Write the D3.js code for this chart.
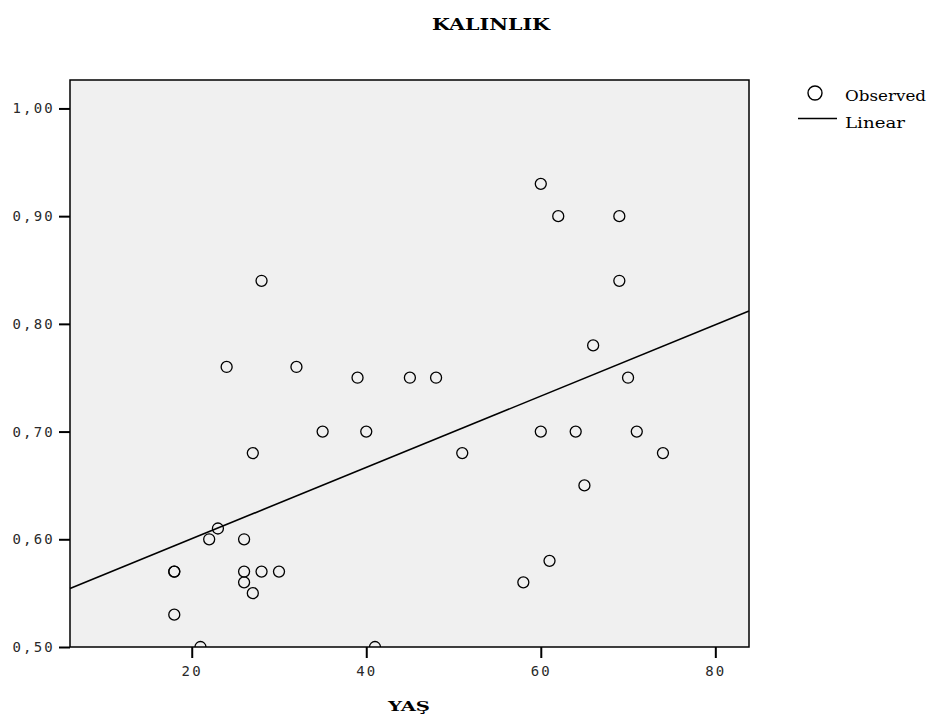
<!DOCTYPE html>
<html>
<head>
<meta charset="utf-8">
<script src="https://cdn.jsdelivr.net/npm/d3@7"></script>
<style>
  html, body { margin: 0; padding: 0; background: #fff; }
  svg { display: block; }
  .tick text { font-family: "DejaVu Sans Mono", monospace; font-size: 14px; letter-spacing: 2.2px; fill: #2a2a2a; }
</style>
</head>
<body>
<svg id="chart" width="938" height="725"></svg>
<script>
// YAŞ (age) against KALINLIK (thickness)
const age = [18, 18, 18, 21, 22, 23, 24, 26, 26, 26, 27, 27, 28, 28, 30, 32, 35, 39, 40, 41,
             45, 48, 51, 58, 60, 60, 61, 62, 64, 65, 66, 69, 69, 70, 71, 74];
const thickness = [0.57, 0.57, 0.53, 0.50, 0.60, 0.61, 0.76, 0.60, 0.57, 0.56, 0.55, 0.68, 0.84, 0.57, 0.57, 0.76, 0.70, 0.75, 0.70, 0.50,
                   0.75, 0.75, 0.68, 0.56, 0.93, 0.70, 0.58, 0.90, 0.70, 0.65, 0.78, 0.90, 0.84, 0.75, 0.70, 0.68];
const xTicks = [20, 40, 60, 80];
const yTicks = [0.5, 0.6, 0.7, 0.8, 0.9, 1.0];
const legendLabels = ["Observed", "Linear"];

const svg = d3.select("#chart");
const plot = { left: 70, top: 80, right: 749, bottom: 647 };
const serif = "'DejaVu Serif', serif";

const x = d3.scaleLinear().domain([6.05, 83.86]).range([plot.left, plot.right]);
const y = d3.scaleLinear().domain([0.5, 1.0264]).range([plot.bottom, plot.top]);

// plot background
svg.append("rect")
  .attr("x", plot.left).attr("y", plot.top)
  .attr("width", plot.right - plot.left).attr("height", plot.bottom - plot.top)
  .attr("fill", "#f0f0f0");

// least-squares fit
const n = age.length;
const mx = d3.mean(age), my = d3.mean(thickness);
let sxy = 0, sxx = 0;
for (let i = 0; i < n; i++) { sxy += (age[i] - mx) * (thickness[i] - my); sxx += (age[i] - mx) ** 2; }
const slope = sxy / sxx, intercept = my - slope * mx;
const [x0, x1] = x.domain();

svg.append("clipPath").attr("id", "plotClip").append("rect")
  .attr("x", plot.left).attr("y", plot.top)
  .attr("width", plot.right - plot.left).attr("height", plot.bottom - plot.top);

svg.append("line")
  .attr("x1", x(x0)).attr("y1", y(intercept + slope * x0))
  .attr("x2", x(x1)).attr("y2", y(intercept + slope * x1))
  .attr("stroke", "#000").attr("stroke-width", 1.6);

svg.append("g").attr("clip-path", "url(#plotClip)")
  .selectAll("circle").data(age.map((a, i) => [a, thickness[i]]))
  .join("circle")
  .attr("cx", d => x(d[0])).attr("cy", d => y(d[1]))
  .attr("r", 5.5)
  .attr("fill", "none").attr("stroke", "#000").attr("stroke-width", 1.3);

// frame
svg.append("rect")
  .attr("x", plot.left).attr("y", plot.top)
  .attr("width", plot.right - plot.left).attr("height", plot.bottom - plot.top)
  .attr("fill", "none").attr("stroke", "#000").attr("stroke-width", 1.5);

// axes
const fmt = v => d3.format(".2f")(v).replace(".", ",");
const gx = svg.append("g").attr("transform", `translate(0,${plot.bottom})`)
  .call(d3.axisBottom(x).tickValues(xTicks).tickSize(11).tickPadding(8).tickFormat(d3.format("d")));
const gy = svg.append("g").attr("transform", `translate(${plot.left},0)`)
  .call(d3.axisLeft(y).tickValues(yTicks).tickSize(11).tickPadding(4).tickFormat(fmt));
[gx, gy].forEach(g => {
  g.select(".domain").remove();
  g.selectAll(".tick line").attr("stroke", "#000").attr("stroke-width", 2);
});

// title and axis title
svg.append("text").attr("x", 432).attr("y", 30)
  .attr("font-family", serif).attr("font-weight", "bold")
  .attr("font-size", 16).attr("textLength", 118).attr("lengthAdjust", "spacingAndGlyphs")
  .text("KALINLIK");
svg.append("text").attr("x", 388).attr("y", 711)
  .attr("font-family", serif).attr("font-weight", "bold")
  .attr("font-size", 12.5).attr("textLength", 42).attr("lengthAdjust", "spacingAndGlyphs")
  .text("YAŞ");

// legend
const lg = svg.append("g").attr("font-family", serif).attr("font-size", 14);
lg.append("circle").attr("cx", 815).attr("cy", 93).attr("r", 7)
  .attr("fill", "none").attr("stroke", "#000").attr("stroke-width", 1.4);
lg.append("text").attr("x", 845).attr("y", 101)
  .attr("textLength", 81).attr("lengthAdjust", "spacingAndGlyphs").text(legendLabels[0]);
lg.append("line").attr("x1", 798).attr("x2", 837).attr("y1", 118.5).attr("y2", 118.5)
  .attr("stroke", "#000").attr("stroke-width", 1.6);
lg.append("text").attr("x", 845).attr("y", 128)
  .attr("textLength", 60).attr("lengthAdjust", "spacingAndGlyphs").text(legendLabels[1]);
</script>
</body>
</html>
